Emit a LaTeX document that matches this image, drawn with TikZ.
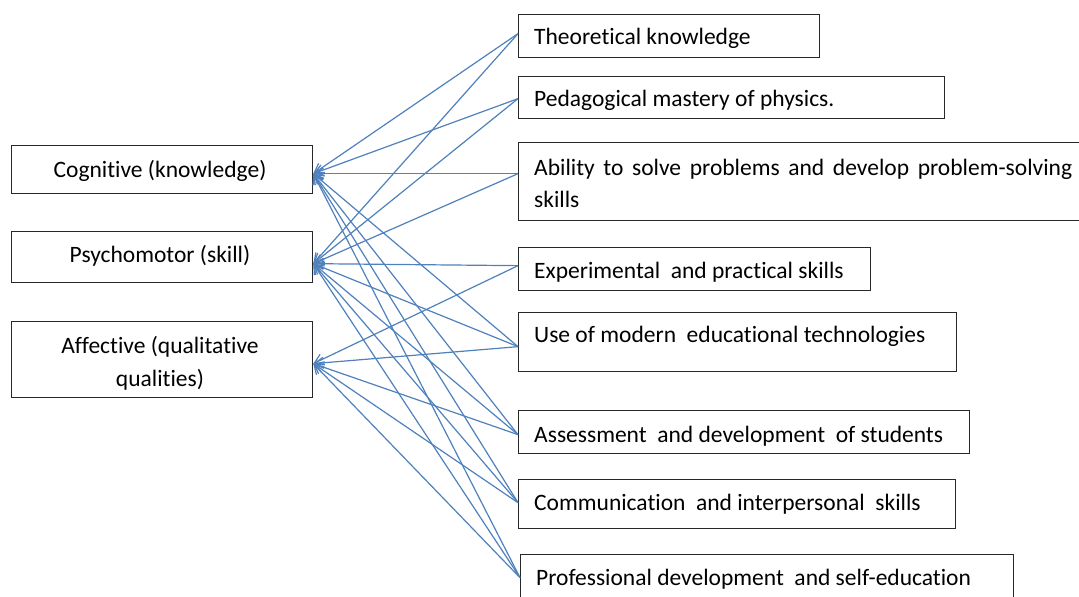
\documentclass[tikz,border=0pt]{standalone}
\usepackage{fontspec}
\setmainfont{Carlito}[Ligatures={NoCommon,NoContextual}]
\usetikzlibrary{arrows.meta}
\definecolor{connblue}{RGB}{79,129,189}
\definecolor{boxline}{RGB}{40,40,40}
\begin{document}
\begin{tikzpicture}[x=1pt,y=-1pt,
  box/.style={draw=boxline,line width=1.3pt,fill=none,inner sep=0pt,anchor=north west},
  lbl/.style={inner sep=0pt,font=\fontsize{23.5}{27}\selectfont},
  conn/.style={draw=connblue,line width=1.2pt,-{Straight Barb[length=9pt,width=11pt]}}]
\clip (0,0) rectangle (1079,597);
\fill[white] (0,0) rectangle (1079,597);
% left boxes
\node[box,minimum width=301pt,minimum height=48pt] (cog) at (11,145) {};
\node[box,minimum width=301pt,minimum height=51pt] (psy) at (11,231) {};
\node[box,minimum width=301pt,minimum height=76pt] (aff) at (11,321) {};
\node[lbl,anchor=base] (cogt) at (160,177) {Cognitive (knowledge)};
\node[lbl,anchor=base] (psyt) at (160,262) {Psychomotor (skill)};
\node[lbl,anchor=base] (afft1) at (160,353) {Affective (qualitative};
\node[lbl,anchor=base] (afft2) at (160,386) {qualities)};
% right boxes
\node[box,minimum width=301pt,minimum height=43pt] (t1) at (518,14) {};
\node[box,minimum width=426pt,minimum height=42pt] (t2) at (518,76) {};
\node[box,minimum width=580pt,minimum height=78pt] (t3) at (518,142) {};
\node[box,minimum width=352pt,minimum height=43pt] (t4) at (518,247) {};
\node[box,minimum width=438pt,minimum height=59pt] (t5) at (518,312) {};
\node[box,minimum width=451pt,minimum height=43pt] (t6) at (518,410) {};
\node[box,minimum width=437pt,minimum height=49pt] (t7) at (518,479) {};
\node[box,minimum width=493pt,minimum height=46pt] (t8) at (520,554) {};
\node[lbl,anchor=base west] (t1t) at (534,44) {Theoretical knowledge};
\node[lbl,anchor=base west] (t2t) at (534,106) {Pedagogical mastery of physics.};
\node[lbl,anchor=base west] (t3t) at (534,175) {\makebox[538pt][s]{Ability to solve problems and develop problem-solving}};
\node[lbl,anchor=base west] (t3u) at (534,207) {skills};
\node[lbl,anchor=base west] (t4t) at (534,278) {Experimental\ \ and practical skills};
\node[lbl,anchor=base west] (t5t) at (534,342) {Use of modern\ \ educational technologies};
\node[lbl,anchor=base west] (t6t) at (534,442) {Assessment\ \ and development\ \ of students};
\node[lbl,anchor=base west] (t7t) at (534,510) {Communication\ \ and interpersonal\ \ skills};
\node[lbl,anchor=base west] (t8t) at (536,585) {Professional development\ \ and self-education};
% connection points
\coordinate (cI) at ([yshift=-4pt]cog.east);
\coordinate (pI) at ([yshift=-6.5pt]psy.east);
\coordinate (aI) at ([yshift=-4pt]aff.east);
\coordinate (o1) at ([yshift=2.5pt]t1.west);
\coordinate (o2) at ([yshift=-1pt]t2.west);
\coordinate (o3) at ([yshift=8pt]t3.west);
\coordinate (o4) at ([yshift=3.5pt]t4.west);
\coordinate (o5) at ([yshift=-4.5pt]t5.west);
\coordinate (o6) at ([yshift=-2.5pt]t6.west);
\coordinate (o7) at ([yshift=1.5pt]t7.west);
\coordinate (o8) at ([yshift=0pt]t8.west);
% connectors
\foreach \s in {o1,o2,o3,o5,o6,o7,o8} {\draw[conn] (\s) -- (cI);}
\foreach \s in {o1,o2,o3,o4,o5,o6,o7,o8} {\draw[conn] (\s) -- (pI);}
\foreach \s in {o4,o5,o6,o7,o8} {\draw[conn] (\s) -- (aI);}
\end{tikzpicture}
\end{document}
